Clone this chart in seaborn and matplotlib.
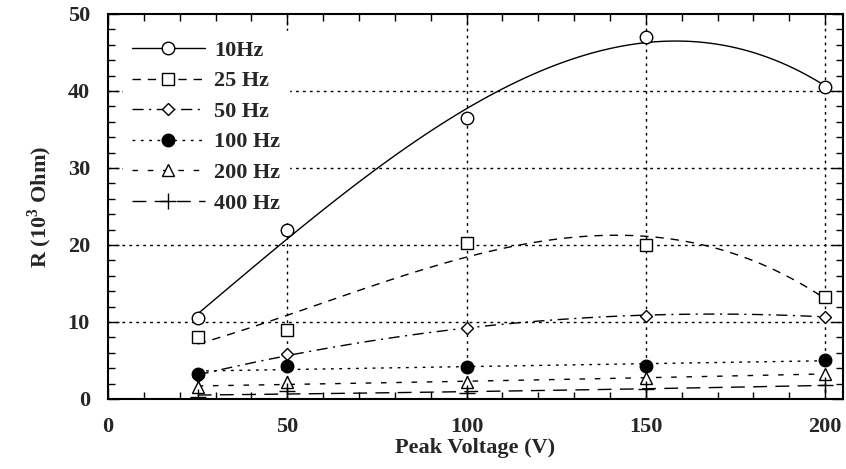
import numpy as np
import pandas as pd
import matplotlib
matplotlib.use("Agg")
import matplotlib.pyplot as plt
from matplotlib.lines import Line2D
from matplotlib.ticker import MultipleLocator
import seaborn as sns

voltage = [25, 50, 100, 150, 200]
r_10hz = [10.5, 22.0, 36.5, 47.0, 40.5]
r_25hz = [8.0, 9.0, 20.3, 20.0, 13.3]
r_50hz = [3.0, 5.8, 9.2, 10.8, 10.7]
r_100hz = [3.3, 4.3, 4.2, 4.3, 5.1]
r_200hz = [1.5, 2.2, 2.2, 2.7, 3.3]
r_400hz = [0.3, 1.0, 0.8, 1.3, 1.8]
labels = ["10Hz", "25 Hz", "50 Hz", "100 Hz", "200 Hz", "400 Hz"]
x_ticks = [0, 50, 100, 150, 200]
y_ticks = [0, 10, 20, 30, 40, 50]

sns.set_theme(style="ticks")
plt.rcParams["font.family"] = ["Liberation Serif", "DejaVu Serif"]
plt.rcParams["font.weight"] = "bold"
plt.rcParams["mathtext.fontset"] = "custom"
plt.rcParams["mathtext.bf"] = "Liberation Serif:bold"
plt.rcParams["mathtext.rm"] = "Liberation Serif:bold"

fig = plt.figure(figsize=(8.46, 4.69), dpi=100)
ax = fig.add_axes([0.1277, 0.1493, 0.8688, 0.8209])

series = [r_10hz, r_25hz, r_50hz, r_100hz, r_200hz, r_400hz]
styles = [
    dict(marker="o", mfc="white", ls="-", order=3, ms=9),
    dict(marker="s", mfc="white", ls=(0, (6, 5)), order=3, ms=9),
    dict(marker="D", mfc="white", ls=(0, (8, 4, 1.5, 4)), order=2, ms=6),
    dict(marker="o", mfc="black", ls=(0, (2, 4)), order=2, ms=9),
    dict(marker="^", mfc="white", ls=(0, (4, 7)), order=2, ms=8),
    dict(marker="+", mfc="black", ls=(0, (10, 6)), order=2, ms=12),
]

for vals, st in zip(series, styles):
    df = pd.DataFrame({"V": voltage, "R": vals})
    sns.regplot(data=df, x="V", y="R", order=st["order"], ci=None, ax=ax,
                scatter=False, truncate=True,
                line_kws=dict(color="black", lw=1.0, ls=st["ls"]))
    ax.plot(df["V"], df["R"], ls="none", marker=st["marker"], ms=st["ms"],
            mfc=st["mfc"], mec="black", mew=1.0, color="black", zorder=5)

ax.set_xlim(0, 205)
ax.set_ylim(0, 50)
ax.set_xticks(x_ticks)
ax.set_yticks(y_ticks)
ax.xaxis.set_minor_locator(MultipleLocator(10))
ax.yaxis.set_minor_locator(MultipleLocator(2))
ax.tick_params(which="both", direction="in", top=True, right=True, color="black")
ax.tick_params(which="major", length=8, width=1.0, labelsize=16, pad=13)
ax.tick_params(which="minor", length=5, width=1.0)
for lab in ax.get_xticklabels() + ax.get_yticklabels():
    lab.set_fontweight("bold")

for v in [50, 100, 150, 200]:
    ax.axvline(v, color="black", ls=(0, (2, 3)), lw=1.0, zorder=0)
for h in [10, 20, 30, 40]:
    ax.axhline(h, color="black", ls=(0, (2, 3)), lw=1.0, zorder=0)

for s in ax.spines.values():
    s.set_linewidth(1.5)
    s.set_color("black")

ax.set_xlabel("Peak Voltage (V)", fontsize=16, fontweight="bold", labelpad=1)
ax.set_ylabel("R (10$^{\\mathbf{3}}$ Ohm)", fontsize=16, fontweight="bold", labelpad=10)

handles = [Line2D([], [], color="black", lw=1.0, ls=st["ls"], marker=st["marker"],
                  ms=st["ms"], mfc=st["mfc"], mec="black") for st in styles]
leg = ax.legend(handles, labels, loc="upper left", bbox_to_anchor=(0.02, 0.955),
                frameon=True, fancybox=False, framealpha=1.0, edgecolor="white",
                fontsize=16, handlelength=3.3, handletextpad=0.4,
                labelspacing=0.45, borderaxespad=0.0)
leg.set_zorder(4)
for t in leg.get_texts():
    t.set_fontweight("bold")

fig.savefig("out.png", dpi=100)
